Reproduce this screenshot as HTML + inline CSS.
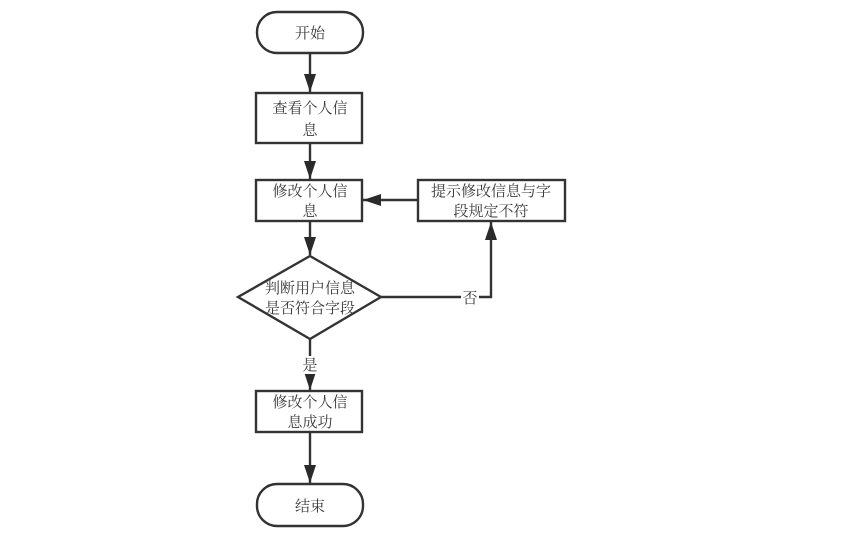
<!DOCTYPE html>
<html><head><meta charset="utf-8"><style>
html,body{margin:0;padding:0;background:#fff;}
svg{display:block;}
text{font-family:"Liberation Serif","Noto Serif CJK SC","Noto Sans CJK SC",serif;font-size:15px;fill:#3a3a3a;text-anchor:middle;}
</style></head><body>
<svg width="848" height="535" viewBox="0 0 848 535" xmlns="http://www.w3.org/2000/svg">
<defs>
<marker id="a" markerWidth="18" markerHeight="12" refX="18" refY="6" orient="auto" markerUnits="userSpaceOnUse">
<path d="M0,0 L18,6 L0,12 Z" fill="#2a2a2a"/>
</marker>
</defs>
<g stroke="#333" stroke-width="2.4" fill="none">
<rect x="257" y="12" width="106" height="41" rx="20" ry="20"/>
<rect x="256" y="93" width="106" height="50"/>
<rect x="256" y="180" width="106" height="41"/>
<rect x="418" y="180" width="147" height="41"/>
<polygon points="310,256 381,297 310,339 238,297"/>
<rect x="256" y="391" width="106" height="41"/>
<rect x="257" y="484" width="106" height="42" rx="20" ry="20"/>
<line x1="310" y1="53" x2="310" y2="92" marker-end="url(#a)"/>
<line x1="310" y1="143" x2="310" y2="179" marker-end="url(#a)"/>
<line x1="310" y1="221" x2="310" y2="255" marker-end="url(#a)"/>
<line x1="418" y1="200" x2="363" y2="200" marker-end="url(#a)"/>
<polyline points="381,297 491,297 491,222" marker-end="url(#a)"/>
<line x1="310" y1="339" x2="310" y2="390" marker-end="url(#a)"/>
<line x1="310" y1="432" x2="310" y2="483" marker-end="url(#a)"/>
</g>
<rect x="461" y="288" width="18" height="18" fill="#fff"/>
<rect x="300" y="356" width="20" height="18" fill="#fff"/>
<text x="310" y="38">开始</text>
<text x="310" y="113">查看个人信</text>
<text x="310" y="135">息</text>
<text x="310" y="196">修改个人信</text>
<text x="310" y="216">息</text>
<text x="491" y="196">提示修改信息与字</text>
<text x="491" y="216">段规定不符</text>
<text x="310" y="293">判断用户信息</text>
<text x="310" y="313">是否符合字段</text>
<text x="470" y="303">否</text>
<text x="310" y="370">是</text>
<text x="310" y="407">修改个人信</text>
<text x="310" y="427">息成功</text>
<text x="310" y="511">结束</text>
</svg>
</body></html>
